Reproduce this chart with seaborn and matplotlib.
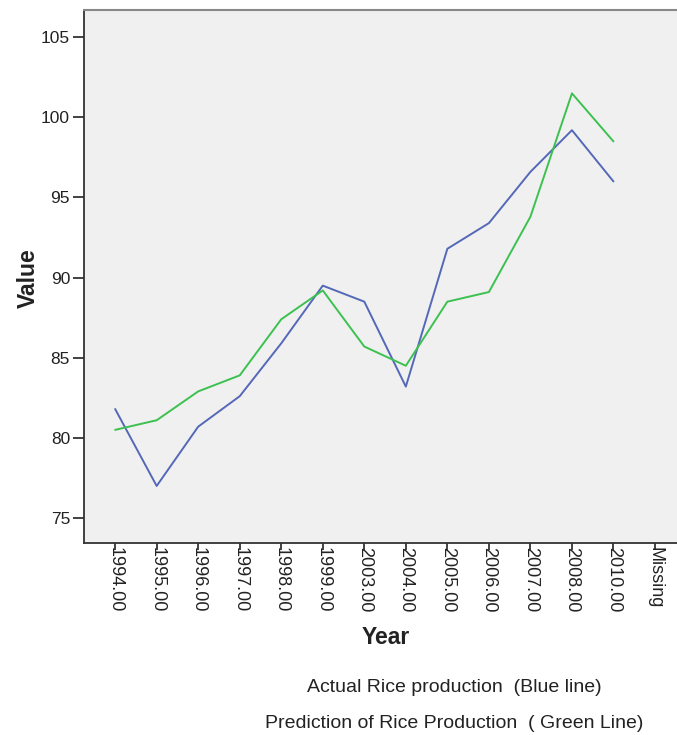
import numpy as np
import pandas as pd
import matplotlib
matplotlib.use("Agg")
import matplotlib.pyplot as plt
import seaborn as sns

years = ["1994.00", "1995.00", "1996.00", "1997.00", "1998.00", "1999.00", "2003.00",
         "2004.00", "2005.00", "2006.00", "2007.00", "2008.00", "2010.00", "Missing"]
actual = [81.8, 77.0, 80.7, 82.6, 85.9, 89.5, 88.5, 83.2, 91.8, 93.4, 96.6, 99.2, 96.0, np.nan]
predicted = [80.5, 81.1, 82.9, 83.9, 87.4, 89.2, 85.7, 84.5, 88.5, 89.1, 93.8, 101.5, 98.5, np.nan]
y_ticks = [75, 80, 85, 90, 95, 100, 105]

sns.set_style("white")
plt.rcParams['font.family'] = ['Liberation Sans', 'DejaVu Sans']

pos = np.arange(len(years))
df = pd.DataFrame({"pos": np.concatenate([pos, pos]),
                   "Value": actual + predicted,
                   "series": ["Actual"] * len(years) + ["Predicted"] * len(years)})
df = df.dropna()

fig = plt.figure(figsize=(6.77, 7.35), dpi=100)
ax = fig.add_axes([84 / 677, 1 - 543 / 735, 593 / 677, 533 / 735])
ax.set_facecolor("#f0f0f0")

sns.lineplot(data=df, x="pos", y="Value", hue="series",
             palette={"Actual": "#5468b8", "Predicted": "#3cc150"},
             linewidth=1.4, legend=False, ax=ax, sort=False)

ax.set_xlim(-0.75, 13.53)
ax.set_ylim(73.44, 106.7)
ax.set_xticks(pos)
ax.set_xticklabels(years, rotation=-90, fontsize=13, va="top", ha="center")
ax.set_yticks(y_ticks)
ax.set_yticklabels([str(v) for v in y_ticks], fontsize=12.5)
ax.tick_params(axis="y", left=True, direction="out", length=8, width=1.3, color="#333333", pad=2, labelcolor="#222222")
ax.tick_params(axis="x", bottom=True, direction="out", length=5, width=1.3, color="#333333", pad=-2, labelcolor="#222222")

for side in ["left", "bottom"]:
    ax.spines[side].set_color("#333333")
    ax.spines[side].set_linewidth(1.3)
ax.spines["top"].set_color("#888888")
ax.spines["top"].set_linewidth(1.5)
ax.spines["right"].set_visible(False)

ax.set_xlabel("")
ax.set_ylabel("")
fig.text(28 / 677, 1 - 278 / 735, "Value", rotation=90, fontsize=16.5, fontweight="bold",
         ha="center", va="center", color="#222222")
fig.text(386 / 677, 1 - 637 / 735, "Year", fontsize=16.5, fontweight="bold",
         ha="center", va="center", color="#222222")

fig.text(454 / 677, 1 - 687 / 735, "Actual Rice production  (Blue line)", fontsize=14,
         ha="center", va="center", color="#222222")
fig.text(454 / 677, 1 - 723 / 735, "Prediction of Rice Production  ( Green Line)", fontsize=14,
         ha="center", va="center", color="#222222")

fig.savefig("out.png", dpi=100, facecolor="white")
